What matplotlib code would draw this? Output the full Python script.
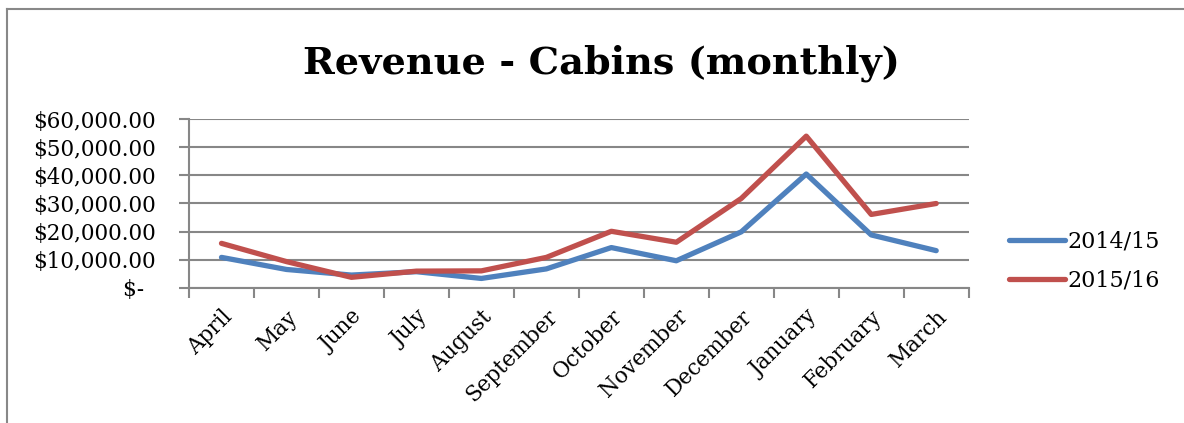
import matplotlib.pyplot as plt
from matplotlib.lines import Line2D

months = ['April', 'May', 'June', 'July', 'August', 'September', 'October',
          'November', 'December', 'January', 'February', 'March']
rev_1415 = [10800, 6500, 4500, 5700, 3300, 6700, 14300, 9600, 19900, 40500, 18800, 13200]
rev_1516 = [15800, 9300, 3700, 5900, 6000, 10800, 20100, 16200, 31800, 54000, 26100, 30000]
yticks = [0, 10000, 20000, 30000, 40000, 50000, 60000]

plt.rcParams['font.family'] = ['DejaVu Serif']

W, H = 1184, 423
fig = plt.figure(figsize=(W / 100, H / 100), dpi=100)
ax = fig.add_axes([189 / W, 1 - 287.7 / H, (968.7 - 189) / W, (287.7 - 119.3) / H])

x = range(len(months))
ax.plot(x, rev_1415, color='#4F81BD', lw=3.8, label='2014/15', solid_capstyle='round')
ax.plot(x, rev_1516, color='#C0504D', lw=3.8, label='2015/16', solid_capstyle='round')

ax.set_xlim(-0.5, len(months) - 0.5)
ax.set_ylim(0, 60000)
ax.set_yticks(yticks)
ax.set_yticklabels(['$- \u2009'] + ['${:,.2f}'.format(v) for v in yticks[1:]], fontsize=15.5)
ax.yaxis.grid(True, color='#878787', lw=1.5)
ax.set_axisbelow(True)

# category ticks sit at the boundaries
ax.set_xticks([i - 0.5 for i in range(len(months) + 1)])
ax.set_xticklabels([])
ax.set_xticks(list(x), minor=True)
ax.set_xticklabels(months, minor=True, rotation=45, ha='right',
                   rotation_mode='anchor', fontsize=15.5)
ax.tick_params(axis='x', which='minor', length=0, pad=13)
ax.tick_params(axis='x', which='major', length=7, width=1.5, color='#878787')
ax.tick_params(axis='y', length=7, width=1.5, color='#878787', pad=17)

for s in ['top', 'right']:
    ax.spines[s].set_visible(False)
for s in ['left', 'bottom']:
    ax.spines[s].set_color('#878787')
    ax.spines[s].set_linewidth(1.5)

fig.text(601 / W, 1 - 63 / H, 'Revenue - Cabins (monthly)', ha='center', va='center',
         fontsize=27.5, fontweight='bold')

fig.legend(loc='center left', bbox_to_anchor=(989 / W, 1 - 261 / H), frameon=False,
           fontsize=16, handlelength=2.5, handletextpad=0.15, labelspacing=0.75)

# chart border
fig.add_artist(Line2D([7 / W, 7 / W], [0, 1 - 9 / H], color='#888888', lw=1.5, transform=fig.transFigure))
fig.add_artist(Line2D([7 / W, 1], [1 - 9 / H, 1 - 9 / H], color='#888888', lw=1.5, transform=fig.transFigure))

fig.savefig('out.png', dpi=100)
